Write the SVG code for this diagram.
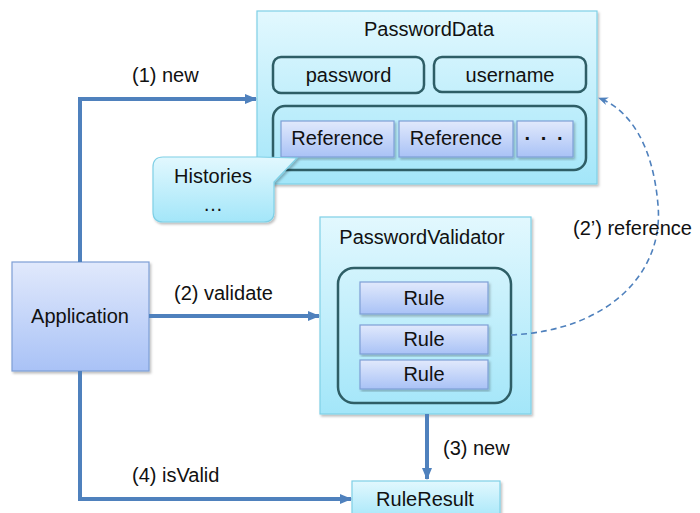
<svg xmlns="http://www.w3.org/2000/svg" width="700" height="513" viewBox="0 0 700 513">
<defs>
<linearGradient id="gCyan" x1="0" y1="0" x2="0" y2="1"><stop offset="0" stop-color="#E2F8FE"/><stop offset="1" stop-color="#A3E6F9"/></linearGradient>
<linearGradient id="gBlue" x1="0" y1="0" x2="0" y2="1"><stop offset="0" stop-color="#E1E9FC"/><stop offset="1" stop-color="#A9C2F6"/></linearGradient>
<filter id="sh" x="-10%" y="-10%" width="120%" height="120%"><feDropShadow dx="1.5" dy="2" stdDeviation="1.2" flood-color="#000" flood-opacity="0.25"/></filter>
<marker id="ah" viewBox="0 0 12 10" refX="11" refY="5" markerWidth="12" markerHeight="10" markerUnits="userSpaceOnUse" orient="auto"><path d="M0,0 L12,5 L0,10 z" fill="#4F81BD"/></marker>
<marker id="ahs" viewBox="0 0 10 8" refX="9" refY="4" markerWidth="10" markerHeight="8" markerUnits="userSpaceOnUse" orient="auto"><path d="M0,0 L10,4 L0,8 L3,4 z" fill="#4F81BD"/></marker>
<style>
text{font-family:"Liberation Sans",Arial,sans-serif;font-size:20px;fill:#111}
.c{text-anchor:middle}
.cyan{fill:url(#gCyan);stroke:#7FD0E6;stroke-width:1.2}
.blue{fill:url(#gBlue);stroke:#7E9FD6;stroke-width:1.2}
.grp{fill:none;stroke:#2E5E66;stroke-width:2.5}
.conn{fill:none;stroke:#4F81BD;stroke-width:4}
.dash{fill:none;stroke:#4F81BD;stroke-width:1.6;stroke-dasharray:6 4}
</style>
</defs>

<g id="PasswordData">
<rect class="cyan" x="257" y="11" width="340" height="173" filter="url(#sh)"/>
<text class="c" x="429" y="36">PasswordData</text>
<rect class="grp" x="273" y="57" width="151" height="36" rx="8"/>
<text class="c" x="348.5" y="82">password</text>
<rect class="grp" x="434" y="57" width="152" height="35" rx="8"/>
<text class="c" x="510" y="82">username</text>
<rect class="grp" x="273" y="106" width="313" height="64" rx="12"/>
<g id="Reference1"><rect class="blue" x="281" y="121" width="113" height="36" filter="url(#sh)"/><text class="c" x="337.5" y="145">Reference</text></g>
<g id="Reference2"><rect class="blue" x="399" y="121" width="114" height="36" filter="url(#sh)"/><text class="c" x="456" y="145">Reference</text></g>
<g id="More"><rect class="blue" x="517" y="121" width="56" height="36" filter="url(#sh)"/><text class="c" x="545" y="145" style="font-weight:bold;letter-spacing:2px">· · ·</text></g>
</g>

<g id="Histories">
<path class="cyan" d="M163,157 L258,157 L297,158 L274,182 L274,212 Q274,222 264,222 L163,222 Q153,222 153,212 L153,167 Q153,157 163,157 Z" filter="url(#sh)"/>
<text class="c" x="213" y="183">Histories</text>
<text class="c" x="213" y="211">…</text>
</g>

<g id="Application">
<rect class="blue" x="12" y="262" width="137" height="109" filter="url(#sh)"/>
<text class="c" x="80" y="323">Application</text>
</g>

<g id="PasswordValidator">
<rect class="cyan" x="320" y="217" width="211" height="197" filter="url(#sh)"/>
<text class="c" x="422" y="244">PasswordValidator</text>
<rect class="grp" x="338" y="268" width="173" height="135" rx="16"/>
<g id="Rule1"><rect class="blue" x="360" y="282" width="128" height="32" filter="url(#sh)"/><text class="c" x="424" y="305">Rule</text></g>
<g id="Rule2"><rect class="blue" x="360" y="325" width="128" height="29" filter="url(#sh)"/><text class="c" x="424" y="346">Rule</text></g>
<g id="Rule3"><rect class="blue" x="360" y="360" width="128" height="29" filter="url(#sh)"/><text class="c" x="424" y="381">Rule</text></g>
</g>

<g id="RuleResult">
<rect class="cyan" x="352" y="481" width="148" height="40" filter="url(#sh)"/>
<text class="c" x="425" y="506">RuleResult</text>
</g>

<g id="connectors">
<path class="conn" d="M80,262 L80,99 L256,99" marker-end="url(#ah)"/>
<path class="conn" d="M149,316 L319,316" marker-end="url(#ah)"/>
<path class="conn" d="M80,371 L80,499 L351,499" marker-end="url(#ah)"/>
<path class="conn" d="M427,414 L427,479" marker-end="url(#ah)"/>
<path class="dash" d="M511,335 C612,330 664,270 658,205 C653,145 630,110 599,98" marker-end="url(#ahs)"/>
<text x="132" y="82">(1) new</text>
<text x="174" y="300">(2) validate</text>
<text x="573" y="235">(2’) reference</text>
<text x="443" y="455">(3) new</text>
<text x="132" y="482">(4) isValid</text>
</g>
</svg>
